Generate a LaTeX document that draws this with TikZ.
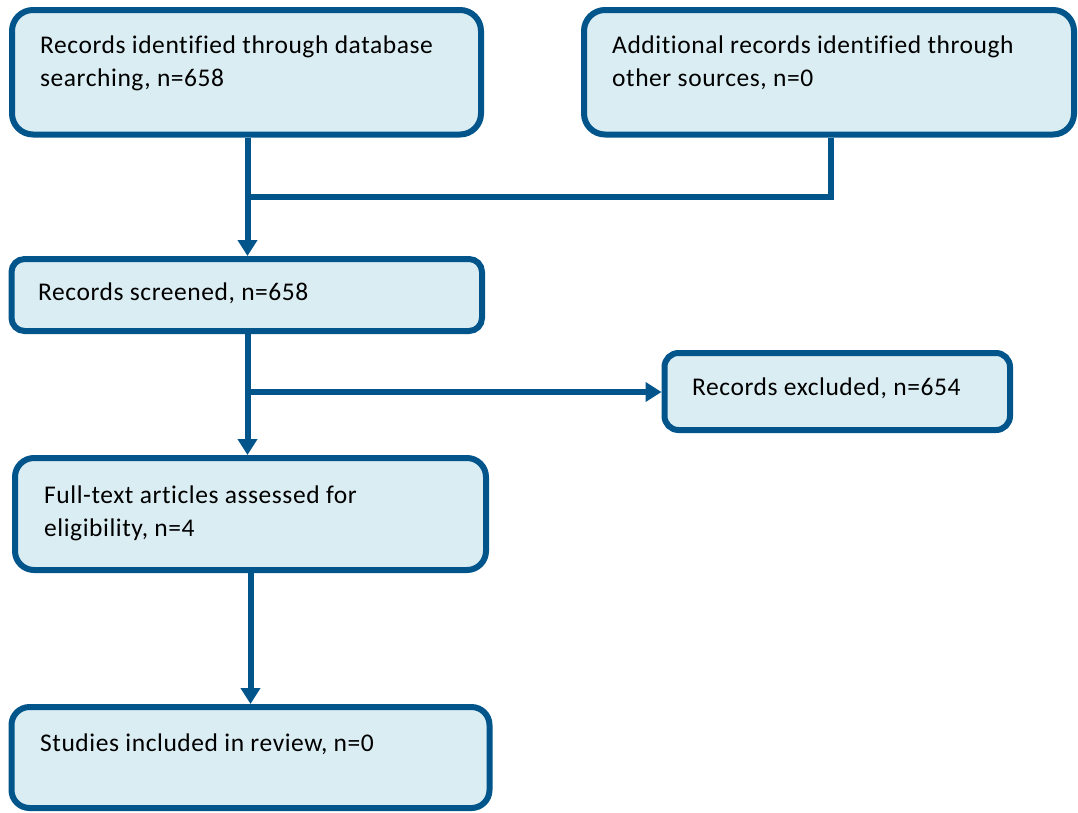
\documentclass[tikz,border=0pt]{standalone}
\usepackage{fontspec}
\setmainfont{Carlito}[LetterSpace=2.2, Ligatures=CommonOff]
\usetikzlibrary{arrows.meta}
\definecolor{edgeblue}{HTML}{02558B}
\definecolor{fillblue}{HTML}{DAEDF3}
\tikzset{
  box/.style={draw=edgeblue, fill=fillblue, line width=6pt, inner sep=0pt},
  lbl/.style={anchor=base west, inner sep=0pt, align=left, text=black,
    font=\fontsize{25.5}{33}\selectfont},
  conn/.style={draw=edgeblue, line width=6pt},
  arr/.style={conn, -{Triangle[length=16pt,width=19pt]}}
}
\begin{document}
\begin{tikzpicture}[x=1pt,y=-1pt]
\useasboundingbox (0,0) rectangle (1078,812);
\node[box, rounded corners=21pt, minimum width=469pt, minimum height=124.5pt] (b1) at (246.5,72.25) {};
\node[box, rounded corners=21pt, minimum width=490pt, minimum height=124.5pt] (b2) at (829,72.25) {};
\node[box, rounded corners=13pt, minimum width=470.5pt, minimum height=72pt] (b3) at (246.75,295) {};
\node[box, rounded corners=14pt, minimum width=345.5pt, minimum height=77pt] (b4) at (837.25,391.5) {};
\node[box, rounded corners=19pt, minimum width=471pt, minimum height=112pt] (b5) at (250.5,514) {};
\node[box, rounded corners=18pt, minimum width=478pt, minimum height=101pt] (b6) at (250.5,757.5) {};

% multi-line labels: base anchor is the last line's baseline
\node[lbl] (t1) at (40,86.5) {Records identified through database\\searching, n=658};
\node[lbl] (t2) at (612,86) {Additional records identified through\\other sources, n=0};
\node[lbl] (t3) at (38,300) {Records screened, n=658};
\node[lbl] (t4) at (692,395) {Records excluded, n=654};
\node[lbl] (t5) at (44,536) {Full-text articles assessed for\\eligibility, n=4};
\node[lbl] (t6) at (40,751) {Studies included in review, n=0};

\coordinate (j1) at (247.5,197);
\coordinate (j2) at (831,197);
\coordinate (j3) at (247.5,392);
\draw[arr] (b1.south -| j1) -- (b3.north -| j1);
\draw[conn] (b2.south -| j2) -- (j2) -- (j1);
\draw[arr] (b3.south -| j3) -- (b5.north -| j3);
\draw[arr] (j3) -- (b4.west |- j3);
\draw[arr] (b5.south) -- (b6.north);
\end{tikzpicture}
\end{document}
